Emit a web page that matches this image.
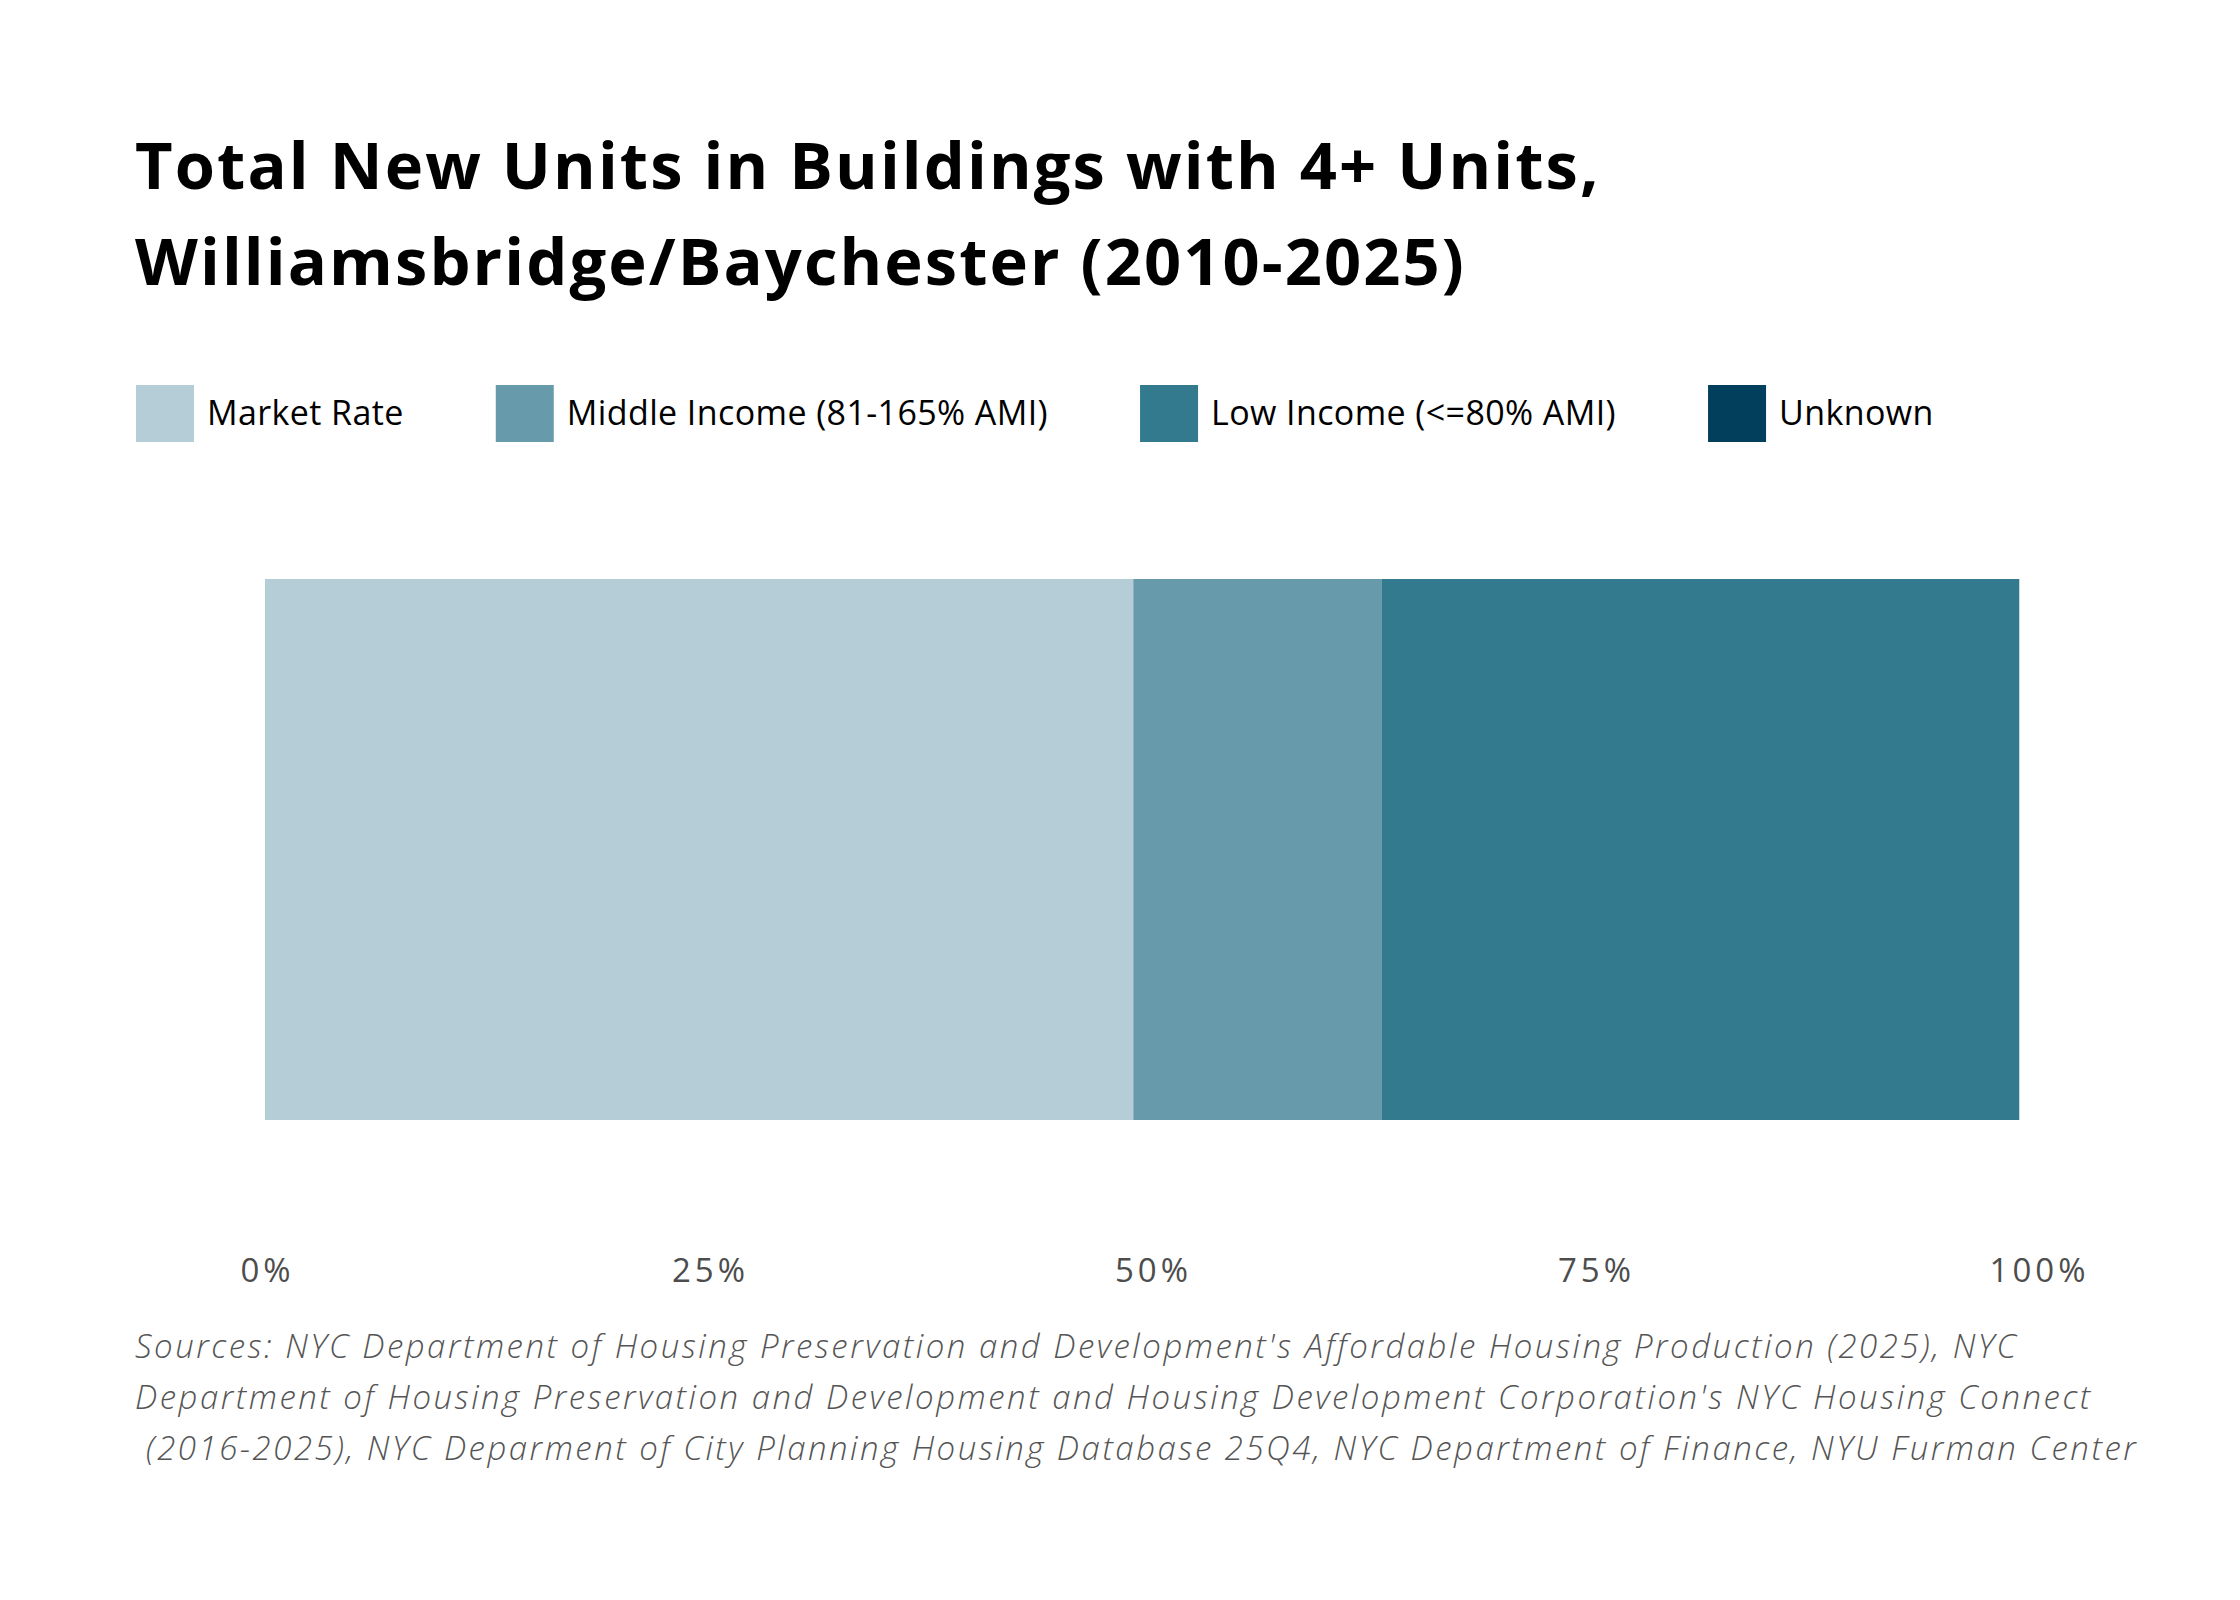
<!DOCTYPE html>
<html>
<head>
<meta charset="utf-8">
<script src="https://cdn.jsdelivr.net/npm/d3@7"></script>
<style>
  body { margin: 0; background: #fff; }
  svg { display: block; }
</style>
</head>
<body>
<div id="chart"></div>
<script>
const width = 2240;
const height = 1600;

const titleLines = [
  "Total New Units in Buildings with 4+ Units,",
  "Williamsbridge/Baychester (2010-2025)",
];

const categories = [
  "Market Rate",
  "Middle Income (81-165% AMI)",
  "Low Income (<=80% AMI)",
  "Unknown",
];
// share of total new units
const shares = [0.49, 0.14, 0.36, 0.0];
const colors = ["#b4cdd6", "#679aaa", "#337a8f", "#023f5c"];
const tickValues = [0, 0.25, 0.5, 0.75, 1];

const sourceLines = [
  "Sources: NYC Department of Housing Preservation and Development's Affordable Housing Production (2025), NYC",
  "Department of Housing Preservation and Development and Housing Development Corporation's NYC Housing Connect",
  " (2016-2025), NYC Deparment of City Planning Housing Database 25Q4, NYC Department of Finance, NYU Furman Center",
];

const margin = { left: 135, barLeft: 265, barRight: 2037 };

const svg = d3
  .select("#chart")
  .append("svg")
  .attr("width", width)
  .attr("height", height);

svg
  .append("rect")
  .attr("width", width)
  .attr("height", height)
  .attr("fill", "#fff");

// title
svg
  .append("g")
  .selectAll("text")
  .data(titleLines)
  .join("text")
  .attr("x", margin.left)
  .attr("y", (d, i) => 189 + i * 96)
  .style("font-family", "'Open Sans', sans-serif")
  .style("font-weight", 700)
  .style("font-size", "65px")
  .style("letter-spacing", "2.1px")
  .attr("fill", "#000")
  .text((d) => d);

// legend, laid out left to right from text widths
const legend = svg.append("g").attr("transform", "translate(136, 385)");
let legendX = 0;
categories.forEach((c, i) => {
  const item = legend.append("g").attr("transform", `translate(${legendX}, 0)`);
  item
    .append("rect")
    .attr("width", 58)
    .attr("height", 57)
    .attr("fill", colors[i]);
  const label = item
    .append("text")
    .attr("x", 71)
    .attr("y", 40)
    .style("font-family", "'Open Sans', sans-serif")
    .style("font-size", "34px")
    .style("letter-spacing", "0.4px")
    .attr("fill", "#000")
    .text(c);
  legendX += 71 + label.node().getComputedTextLength() + 92;
});

// stacked bar
const stack = [];
let acc = 0;
shares.forEach((v, i) => {
  stack.push({ key: categories[i], x0: acc, x1: acc + v, color: colors[i] });
  acc += v;
});

const xScale = d3
  .scaleLinear()
  .domain([0, 1])
  .range([margin.barLeft, margin.barRight]);

const yScale = d3
  .scaleBand()
  .domain(["all"])
  .range([579, 1120])
  .padding(0);

svg
  .append("g")
  .selectAll("rect")
  .data(stack)
  .join("rect")
  .attr("x", (d) => xScale(d.x0))
  .attr("width", (d) => xScale(d.x1) - xScale(d.x0))
  .attr("y", yScale("all"))
  .attr("height", yScale.bandwidth())
  .attr("fill", (d) => d.color);

// axis
const xAxis = svg
  .append("g")
  .attr("transform", "translate(0, 1282)")
  .call(
    d3
      .axisBottom(xScale)
      .tickValues(tickValues)
      .tickFormat(d3.format(".0%"))
      .tickSize(0)
      .tickPadding(0)
  );
xAxis.select(".domain").remove();
xAxis
  .selectAll("text")
  .attr("dy", 0)
  .attr("y", 0)
  .attr("dx", 2)
  .style("font-family", "'Open Sans', sans-serif")
  .style("font-size", "33px")
  .style("letter-spacing", "4px")
  .attr("fill", "#4d4d4d");

// sources
svg
  .append("g")
  .selectAll("text")
  .data(sourceLines)
  .join("text")
  .attr("x", margin.left)
  .attr("y", (d, i) => 1358 + i * 51)
  .attr("xml:space", "preserve")
  .style("white-space", "pre")
  .style("font-family", "'Open Sans', sans-serif")
  .style("font-style", "italic")
  .style("font-weight", 300)
  .style("font-size", "33px")
  .style("letter-spacing", "2.5px")
  .attr("fill", "#555")
  .text((d) => d);
</script>
</body>
</html>
